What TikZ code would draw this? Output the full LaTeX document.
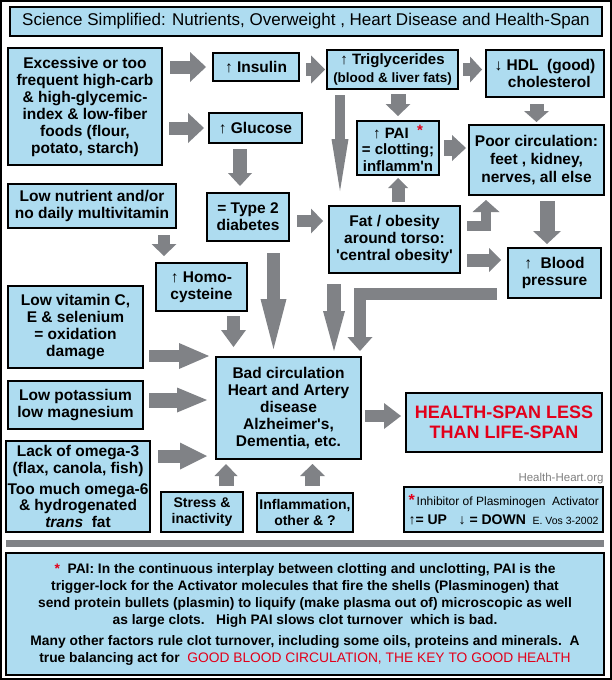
\documentclass[tikz,border=0pt]{standalone}
\usepackage{fontspec}
\setmainfont{Liberation Sans}[Ligatures=TeXOff]
\usepackage{tikz}
\usetikzlibrary{arrows.meta}
\definecolor{boxblue}{RGB}{174,220,240}
\definecolor{arrgrey}{RGB}{128,130,134}
\definecolor{hred}{RGB}{226,0,26}

\begin{document}
\begin{tikzpicture}[x=1pt,y=-1pt,line join=miter,
                    font=\bfseries\fontsize{15.5}{17}\selectfont,
                    blk/.style n args={3}{draw=arrgrey,line width=#1,
                      -{Triangle[length=#2,width=#3,line width=0pt]}}]
  \tikzstyle{box}=[draw=black,line width=2pt,fill=boxblue,inner sep=0pt,align=center]

  \useasboundingbox (0,0) rectangle (612,680);
  \fill[white] (0,0) rectangle (612,680);
  \draw[line width=2pt] (1,1) rectangle (611,679);

  \node[box,minimum width=592pt,minimum height=29pt,
        font=\mdseries\fontsize{17}{19}\selectfont] (title) at (306,21.5)
        {Science Simplified: Nutrients, Overweight , Heart Disease and Health-Span};

  \node[box,minimum width=154pt,minimum height=117pt] (exc) at (85,106.5)
        {Excessive or too\\frequent high-carb\\\& high-glycemic-\\index \& low-fiber\\foods (flour,\\potato, starch)};
  \node[box,minimum width=86pt,minimum height=28pt] (ins) at (256,67) {↑ Insulin};
  \node[box,minimum width=131pt,minimum height=39pt,font=\bfseries\fontsize{15}{18.5}\selectfont] (tri) at (392.5,69.5)
        {↑ Triglycerides\\{\fontsize{13.5}{15}\selectfont(blood \& liver fats)}};
  \node[box,minimum width=118pt,minimum height=47pt,font=\bfseries\fontsize{15.5}{17.5}\selectfont] (hdl) at (545,73.5)
        {↓ HDL\ \ (good)\\\ \ cholesterol};
  \node[box,minimum width=93pt,minimum height=30pt] (glu) at (255.5,128) {↑ Glucose};
  \node[box,minimum width=82pt,minimum height=54pt,font=\bfseries\fontsize{15}{16.5}\selectfont] (pai) at (398,148)
        {↑ PAI\ \ \raisebox{3pt}{\textcolor{hred}{*}}\\= clotting;\\inflamm'n};
  \node[box,minimum width=135pt,minimum height=70pt,font=\bfseries\fontsize{15.5}{18.3}\selectfont] (poor) at (536.5,160)
        {Poor circulation:\\feet , kidney,\\nerves, all else};
  \node[box,minimum width=168pt,minimum height=44pt] (nut) at (92,206)
        {Low nutrient and/or\\no daily multivitamin};
  \node[box,minimum width=82pt,minimum height=48pt] (t2) at (248,217) {= Type 2\\diabetes};
  \node[box,minimum width=131pt,minimum height=67pt] (fat) at (394.5,239.5)
        {Fat / obesity\\around\ torso:\\'central obesity'};
  \node[box,minimum width=93pt,minimum height=50pt] (bp) at (554.5,273) {↑\ \ Blood\\pressure};
  \node[box,minimum width=91pt,minimum height=48pt] (hom) at (201.5,287) {↑ Homo-\\cysteine};
  \node[box,minimum width=135pt,minimum height=82pt,font=\bfseries\fontsize{15.5}{17.3}\selectfont] (vit) at (75.5,327)
        {Low vitamin C,\\E \& selenium\\= oxidation\\damage};
  \node[box,minimum width=135pt,minimum height=48pt] (pot) at (75.5,405)
        {Low potassium\\low magnesium};
  \node[box,minimum width=144pt,minimum height=91pt,font=\bfseries\fontsize{15.5}{16.7}\selectfont] (omg) at (78,486.5)
        {Lack of omega-3\\(flax, canola, fish)\\[4pt]Too much omega-6\\\& hydrogenated\\\textit{trans}\ \ fat};
  \node[box,minimum width=145pt,minimum height=102pt] (bad) at (288.5,408)
        {Bad circulation\\Heart and Artery\\disease\\Alzheimer's,\\Dementia, etc.};
  \node[box,minimum width=196pt,minimum height=59pt,text=hred,
        font=\bfseries\fontsize{18}{20}\selectfont] (hsp) at (504,422.5)
        {HEALTH-SPAN LESS\\THAN LIFE-SPAN};
  \node[box,minimum width=82pt,minimum height=40pt,font=\bfseries\fontsize{14}{16}\selectfont] (str) at (202,512)
        {Stress \&\\inactivity};
  \node[box,minimum width=96pt,minimum height=39pt,font=\bfseries\fontsize{14}{16}\selectfont] (inf) at (305,512.5)
        {Inflammation,\\other \& ?};

  \node[text=gray,font=\mdseries\fontsize{11.5}{13}\selectfont] (web) at (561,479) {Health-Heart.org};
  \node[box,minimum width=199pt,minimum height=45pt,font=\mdseries\fontsize{12}{19}\selectfont] (leg) at (503.5,509.5)
        {\makebox[190pt][l]{\textcolor{hred}{\bfseries\fontsize{16}{16}\selectfont*}\,Inhibitor of Plasminogen\ \ Activator}\\
         \makebox[190pt][l]{\bfseries\fontsize{14}{16}\selectfont ↑= UP\ \ \ ↓ = DOWN\hfill
         \mdseries\fontsize{10.5}{12}\selectfont E. Vos 3-2002}};

  \fill[arrgrey] (6,540) rectangle (604,547);
  \node[box,minimum width=598pt,minimum height=122pt,font=\bfseries\fontsize{13.8}{17}\selectfont] (note) at (305,614)
        {\textcolor{hred}{*}\ \ PAI: In the continuous interplay between clotting and unclotting, PAI is the\\
         trigger-lock for the Activator molecules that fire the shells (Plasminogen) that\\
         send protein bullets (plasmin) to liquify (make plasma out of) microscopic as well\\
         as large clots.\ \ \ High PAI\ slows clot turnover\ \ which is bad.\\[4pt]
         Many other factors rule clot turnover, including some oils, proteins and minerals.\ \ A\\
         true balancing act for\ \ \textcolor{hred}{\mdseries GOOD BLOOD CIRCULATION, THE KEY TO GOOD HEALTH}};

  % carbs, insulin, glucose
  \path (exc.east |- ins.west) edge[blk={13pt}{16pt}{30pt},shorten <=7pt,shorten >=6pt] (ins.west)
        (ins.east |- tri.west) edge[blk={13pt}{14pt}{28pt},shorten <=6pt,shorten >=1pt] (tri.west)
        (tri.east) edge[blk={13pt}{12pt}{26pt},shorten <=4pt,shorten >=3pt] (tri.east -| hdl.west)
        (exc.east |- glu.west) edge[blk={13pt}{16pt}{30pt},shorten <=6pt,shorten >=4pt] (glu.west)
        ([xshift=-15.5pt]glu.south) edge[blk={14pt}{13pt}{24pt},shorten <=5pt,shorten >=6pt] ([xshift=-8pt]t2.north)
        ([yshift=-4pt]t2.east) edge[blk={12pt}{12pt}{25pt},shorten <=7pt,shorten >=5pt] ([yshift=-4pt]t2.east -| fat.west);

  % fats and circulation
  \path (tri.south -| pai.north) edge[blk={15pt}{12pt}{25pt},shorten <=4pt,shorten >=4pt] (pai.north)
        ([xshift=-54.5pt]fat.north |- tri.south) edge[blk={10pt}{52pt}{17pt},shorten <=5pt,shorten >=14pt] ([xshift=-54.5pt]fat.north)
        (hdl.south -| poor.north) edge[blk={14pt}{11pt}{25pt},shorten <=6pt,shorten >=2pt] (poor.north)
        (pai.east) edge[blk={16pt}{14pt}{26pt},shorten <=4pt,shorten >=2pt] (pai.east -| poor.west)
        (pai.south |- fat.north) edge[blk={13pt}{10pt}{20pt},shorten <=3pt,shorten >=2pt] (pai.south)
        ([yshift=-20.5pt]fat.east) edge[blk={13pt}{12pt}{24pt},shorten <=6pt,shorten >=6pt] ([yshift=-20.5pt]fat.east -| bp.west)
        ([xshift=10.5pt]poor.south) edge[blk={15pt}{13pt}{28pt},shorten <=5pt,shorten >=3pt] ([xshift=10.5pt]poor.south |- bp.north);
  \draw[blk={10pt}{12pt}{27pt},shorten >=4pt] ([xshift=6pt,yshift=13.5pt]fat.east) -| ([xshift=-50.5pt]poor.south);
  \draw[blk={12pt}{14pt}{25pt},shorten >=5pt] ([xshift=-10pt,yshift=-21pt]bp.west) -| ([xshift=71.5pt]bad.north);

  % into bad circulation
  \path ([xshift=-37.5pt]hom.north |- nut.south) edge[blk={12pt}{12pt}{25pt},shorten <=6pt,shorten >=6pt] ([xshift=-37.5pt]hom.north)
        ([xshift=-55pt]bad.north |- hom.south) edge[blk={13pt}{17pt}{25pt},shorten <=4pt,shorten >=9pt] ([xshift=-55pt]bad.north)
        ([xshift=-15pt]bad.north |- t2.south) edge[blk={13pt}{50pt}{26pt},shorten <=11pt,shorten >=7pt] ([xshift=-15pt]bad.north)
        ([xshift=45.5pt]bad.north |- fat.south) edge[blk={14pt}{40pt}{22pt},shorten <=10pt,shorten >=5pt] ([xshift=45.5pt]bad.north)
        ([yshift=-29pt]vit.east) edge[blk={12pt}{30pt}{26pt},shorten <=5pt,shorten >=6pt] ([yshift=-29pt]vit.east -| bad.west)
        ([yshift=5pt]pot.east) edge[blk={15pt}{30pt}{25pt},shorten <=5pt,shorten >=8pt] ([yshift=5pt]pot.east -| bad.west)
        ([yshift=30.5pt]omg.east) edge[blk={13pt}{27pt}{27pt},shorten <=7pt,shorten >=8pt] ([yshift=30.5pt]omg.east -| bad.west)
        ([xshift=24pt]str.north) edge[blk={15pt}{12pt}{23pt},shorten <=5pt,shorten >=4pt] ([xshift=24pt]str.north |- bad.south)
        ([xshift=7.5pt]inf.north) edge[blk={15pt}{12pt}{25pt},shorten <=6pt,shorten >=4pt] ([xshift=7.5pt]inf.north |- bad.south)
        ([yshift=-8pt]bad.east) edge[blk={12pt}{17pt}{26pt},shorten <=3pt,shorten >=4pt] ([yshift=-8pt]bad.east -| hsp.west);
\end{tikzpicture}
\end{document}
